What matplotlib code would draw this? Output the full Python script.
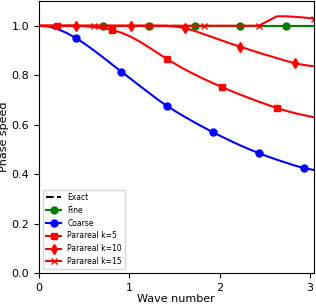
import numpy as np
import matplotlib
matplotlib.use("Agg")
from matplotlib import pyplot as plt

# wave numbers: 32 samples from 0 to pi
x = np.linspace(0, np.pi, 32)

exact = [1.0] * 32
fine = [1.0] * 32

coarse = [1.000, 0.997, 0.987, 0.971, 0.951, 0.927, 0.900, 0.872, 0.843, 0.814,
          0.786, 0.757, 0.729, 0.701, 0.675, 0.652, 0.630, 0.609, 0.589, 0.569,
          0.551, 0.533, 0.516, 0.500, 0.485, 0.471, 0.458, 0.446, 0.434, 0.424,
          0.417, 0.412]

para_k5 = [1.000, 1.000, 1.000, 1.000, 1.000, 0.998, 0.995, 0.990, 0.983, 0.972,
           0.956, 0.936, 0.913, 0.889, 0.865, 0.843, 0.822, 0.803, 0.785, 0.768,
           0.752, 0.736, 0.721, 0.707, 0.693, 0.680, 0.667, 0.656, 0.646, 0.638,
           0.630, 0.624]

para_k10 = [1.000, 1.000, 1.000, 1.000, 1.000, 1.000, 1.000, 1.000, 1.000, 1.000,
            1.000, 1.000, 1.000, 1.000, 0.999, 0.996, 0.990, 0.979, 0.966, 0.953,
            0.940, 0.927, 0.915, 0.903, 0.891, 0.880, 0.869, 0.858, 0.848, 0.841,
            0.836, 0.832]

para_k15 = [1.000, 1.000, 1.000, 1.000, 1.000, 1.000, 1.000, 1.000, 1.000, 1.000,
            1.000, 1.000, 1.000, 1.000, 1.000, 1.000, 1.000, 1.000, 1.000, 1.000,
            1.000, 1.000, 1.000, 1.000, 1.000, 1.019, 1.038, 1.038, 1.036, 1.033,
            1.029, 1.026]

fig = plt.figure(figsize=(3.16, 3.04), dpi=100)
ax = fig.add_axes([39 / 316, 31 / 304, 274.5 / 316, 272 / 304])

ax.plot(x, exact, 'k--', lw=1.5, label='Exact')
ax.plot(x, fine, 'g-o', lw=1.5, ms=5, markevery=(7, 5), label='Fine')
ax.plot(x, coarse, 'b-o', lw=1.5, ms=5, markevery=(4, 5), label='Coarse')
ax.plot(x, para_k5, 'r-s', lw=1.5, ms=5, markevery=(2, 6), label='Parareal k=5')
ax.plot(x, para_k10, 'r-d', lw=1.5, ms=5, markevery=(4, 6), label='Parareal k=10')
ax.plot(x, para_k15, 'r-x', lw=1.5, ms=5, markevery=(6, 6), label='Parareal k=15')

ax.set_xlim(0, 3.04)
ax.set_ylim(0, 1.1)
ax.set_xticks([0, 1, 2, 3])
ax.set_yticks([0.0, 0.2, 0.4, 0.6, 0.8, 1.0])
ax.tick_params(labelsize=8)
ax.set_xlabel("Wave number", fontsize=8, labelpad=1)
ax.set_ylabel("Phase speed", fontsize=8, labelpad=2)
ax.legend(loc='lower left', fontsize=5.5)

fig.savefig("out.png", dpi=100)
